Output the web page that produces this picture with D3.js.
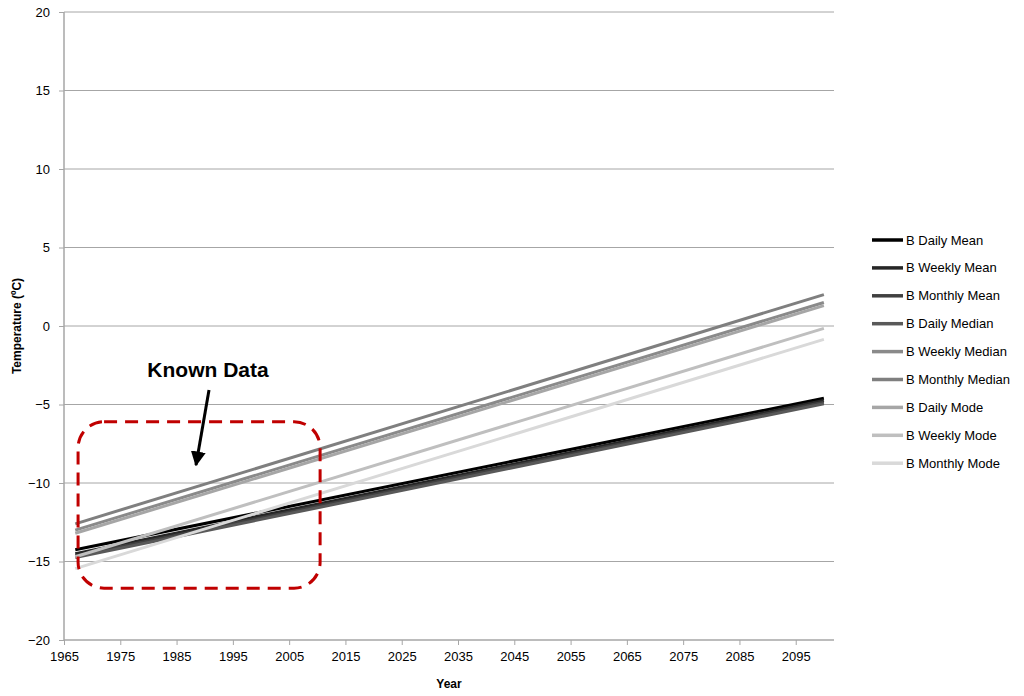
<!DOCTYPE html>
<html><head><meta charset="utf-8">
<script src="https://cdn.jsdelivr.net/npm/d3@7"></script>
<style>body{margin:0;background:#fff}svg{display:block}text{font-family:"Liberation Sans",Arial,sans-serif}</style>
</head><body><svg id="c" width="1024" height="696"></svg>
<script>
const years = [1967, 2100];
const seriesNames = ["B Daily Mean","B Weekly Mean","B Monthly Mean","B Daily Median","B Weekly Median","B Monthly Median","B Daily Mode","B Weekly Mode","B Monthly Mode"];
const dailyMean = [-14.25, -4.6];
const weeklyMean = [-14.5, -4.75];
const monthlyMean = [-14.65, -4.85];
const dailyMedian = [-14.75, -4.95];
const weeklyMedian = [-13.0, 1.5];
const monthlyMedian = [-12.6, 2.0];
const dailyMode = [-13.2, 1.3];
const weeklyMode = [-14.7, -0.15];
const monthlyMode = [-15.45, -0.85];
const seriesColors = ["#000000","#262626","#404040","#595959","#8a8a8a","#7f7f7f","#a6a6a6","#bfbfbf","#d9d9d9"];
const xTicks = [1965,1975,1985,1995,2005,2015,2025,2035,2045,2055,2065,2075,2085,2095];
const yTicks = [-20,-15,-10,-5,0,5,10,15,20];
const annotationText = "Known Data";
const knownRange = [1967.5, 2010.5];
const knownTemp = [-16.7, -6.1];

const allValues = [dailyMean,weeklyMean,monthlyMean,dailyMedian,weeklyMedian,monthlyMedian,dailyMode,weeklyMode,monthlyMode];
const series = seriesNames.map((n,i)=>({name:n,color:seriesColors[i],values:allValues[i].map((v,j)=>({x:years[j],y:v}))}));

const svg = d3.select("#c");
const L=64,R=834,T=12,B=640;
const x = d3.scaleLinear().domain([1965,2101.8]).range([L,R]);
const y = d3.scaleLinear().domain([-20,20]).range([B,T]);
const grid="#a6a6a6";

// gridlines
svg.append("g").selectAll("line").data(yTicks.filter(t=>t>-20)).join("line")
  .attr("x1",L).attr("x2",R).attr("y1",d=>y(d)).attr("y2",d=>y(d))
  .attr("stroke",grid).attr("stroke-width",1);

// axes
const yAxis = svg.append("g").attr("transform",`translate(${L},0)`)
  .call(d3.axisLeft(y).tickValues(yTicks).tickSize(5).tickPadding(9));
const xAxis = svg.append("g").attr("transform",`translate(0,${B})`)
  .call(d3.axisBottom(x).tickValues(xTicks).tickFormat(d3.format("d")).tickSize(5).tickPadding(7));
[yAxis,xAxis].forEach(a=>{
  a.select(".domain").attr("stroke",grid).attr("stroke-width",1.5);
  a.selectAll(".tick line").attr("stroke",grid);
  a.selectAll("text").attr("font-size",13).attr("fill","#000").attr("font-family","Liberation Sans, Arial, sans-serif");
});
xAxis.select(".domain").attr("d",`M${L},0H${R}`);
yAxis.select(".domain").attr("d",`M0,${B}V${T}`);

// series
const line = d3.line().x(d=>x(d.x)).y(d=>y(d.y));
svg.append("g").selectAll("path").data(series).join("path")
  .attr("d",d=>line(d.values)).attr("fill","none")
  .attr("stroke",d=>d.color).attr("stroke-width",3);

// annotation box
svg.append("rect")
  .attr("x",x(knownRange[0])).attr("y",y(knownTemp[1]))
  .attr("width",x(knownRange[1])-x(knownRange[0])).attr("height",y(knownTemp[0])-y(knownTemp[1]))
  .attr("rx",26).attr("ry",26).attr("fill","none")
  .attr("stroke","#c00000").attr("stroke-width",3).attr("stroke-dasharray","13,8");

svg.append("defs").append("marker").attr("id","ah").attr("viewBox","0 0 10 10")
  .attr("refX",9).attr("refY",5).attr("markerWidth",5).attr("markerHeight",5).attr("orient","auto")
  .append("path").attr("d","M0,0L10,5L0,10z").attr("fill","#000");
svg.append("line").attr("x1",209).attr("y1",390).attr("x2",196).attr("y2",465)
  .attr("stroke","#000").attr("stroke-width",3).attr("marker-end","url(#ah)");
svg.append("text").attr("x",208).attr("y",377).attr("text-anchor","middle")
  .attr("font-size",21).attr("font-weight","bold").text(annotationText);

// axis titles
svg.append("text").attr("transform","translate(21,326) rotate(-90)").attr("text-anchor","middle")
  .attr("font-size",12).attr("font-weight","bold").text("Temperature (ºC)");
svg.append("text").attr("x",449).attr("y",688).attr("text-anchor","middle")
  .attr("font-size",12).attr("font-weight","bold").text("Year");

// legend
const lg = svg.append("g").selectAll("g").data(series).join("g")
  .attr("transform",(d,i)=>`translate(872,${240+i*27.9})`);
lg.append("line").attr("x1",0).attr("x2",31).attr("stroke",d=>d.color).attr("stroke-width",3.5);
lg.append("text").attr("x",34).attr("y",4.5).attr("font-size",13).text(d=>d.name);
</script></body></html>
